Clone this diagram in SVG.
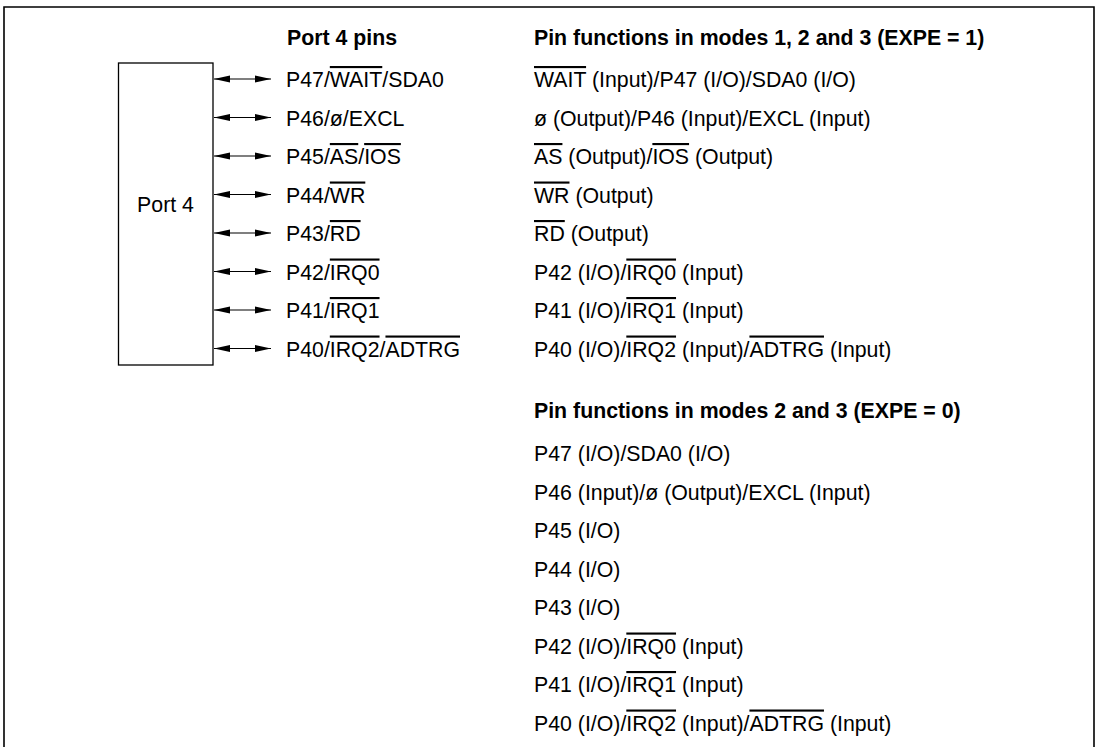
<svg xmlns="http://www.w3.org/2000/svg" width="1098" height="747" viewBox="0 0 1098 747">
<style>
text{font-family:"Liberation Sans",Arial,sans-serif;font-size:21.3px;fill:#000}
.h{font-weight:bold}
.o{text-decoration:overline}
.c{stroke:#000;stroke-width:1.2;fill:none}
</style>
<defs>
<marker id="ah" viewBox="0 0 16 8" refX="16" refY="4" markerWidth="16" markerHeight="8" markerUnits="userSpaceOnUse" orient="auto-start-reverse">
<path d="M0,0.5 L16,4 L0,7.5 Z" fill="#000"/>
</marker>
</defs>
<rect width="1098" height="747" fill="#fff"/>
<path d="M4,747 V7 H1094 V747" fill="none" stroke="#000" stroke-width="1.6"/>
<g id="port4">
<rect x="118.5" y="63" width="94.5" height="302" fill="#fff" stroke="#000" stroke-width="1.3"/>
<text x="165.5" y="212" text-anchor="middle">Port 4</text>
</g>
<g id="connectors">
<line class="c" x1="214" y1="79" x2="271" y2="79" marker-start="url(#ah)" marker-end="url(#ah)"/>
<line class="c" x1="214" y1="117.5" x2="271" y2="117.5" marker-start="url(#ah)" marker-end="url(#ah)"/>
<line class="c" x1="214" y1="156" x2="271" y2="156" marker-start="url(#ah)" marker-end="url(#ah)"/>
<line class="c" x1="214" y1="194.5" x2="271" y2="194.5" marker-start="url(#ah)" marker-end="url(#ah)"/>
<line class="c" x1="214" y1="233" x2="271" y2="233" marker-start="url(#ah)" marker-end="url(#ah)"/>
<line class="c" x1="214" y1="271.5" x2="271" y2="271.5" marker-start="url(#ah)" marker-end="url(#ah)"/>
<line class="c" x1="214" y1="310" x2="271" y2="310" marker-start="url(#ah)" marker-end="url(#ah)"/>
<line class="c" x1="214" y1="348.5" x2="271" y2="348.5" marker-start="url(#ah)" marker-end="url(#ah)"/>
</g>
<g id="pins">
<text class="h" x="287" y="45">Port 4 pins</text>
<text x="286" y="87">P47/<tspan class="o">WAIT</tspan>/SDA0</text>
<text x="286" y="125.5">P46/ø/EXCL</text>
<text x="286" y="164">P45/<tspan class="o">AS</tspan>/<tspan class="o">IOS</tspan></text>
<text x="286" y="202.5">P44/<tspan class="o">WR</tspan></text>
<text x="286" y="241">P43/<tspan class="o">RD</tspan></text>
<text x="286" y="279.5">P42/<tspan class="o">IRQ0</tspan></text>
<text x="286" y="318">P41/<tspan class="o">IRQ1</tspan></text>
<text x="286" y="356.5">P40/<tspan class="o">IRQ2</tspan>/<tspan class="o">ADTRG</tspan></text>
</g>
<g id="modes123">
<text class="h" x="534" y="45">Pin functions in modes 1, 2 and 3 (EXPE = 1)</text>
<text x="534" y="87"><tspan class="o">WAIT</tspan> (Input)/P47 (I/O)/SDA0 (I/O)</text>
<text x="534" y="125.5">ø (Output)/P46 (Input)/EXCL (Input)</text>
<text x="534" y="164"><tspan class="o">AS</tspan> (Output)/<tspan class="o">IOS</tspan> (Output)</text>
<text x="534" y="202.5"><tspan class="o">WR</tspan> (Output)</text>
<text x="534" y="241"><tspan class="o">RD</tspan> (Output)</text>
<text x="534" y="279.5">P42 (I/O)/<tspan class="o">IRQ0</tspan> (Input)</text>
<text x="534" y="318">P41 (I/O)/<tspan class="o">IRQ1</tspan> (Input)</text>
<text x="534" y="356.5">P40 (I/O)/<tspan class="o">IRQ2</tspan> (Input)/<tspan class="o">ADTRG</tspan> (Input)</text>
</g>
<g id="modes23">
<text class="h" x="534" y="418">Pin functions in modes 2 and 3 (EXPE = 0)</text>
<text x="534" y="461">P47 (I/O)/SDA0 (I/O)</text>
<text x="534" y="499.5">P46 (Input)/ø (Output)/EXCL (Input)</text>
<text x="534" y="538">P45 (I/O)</text>
<text x="534" y="576.5">P44 (I/O)</text>
<text x="534" y="615">P43 (I/O)</text>
<text x="534" y="653.5">P42 (I/O)/<tspan class="o">IRQ0</tspan> (Input)</text>
<text x="534" y="692">P41 (I/O)/<tspan class="o">IRQ1</tspan> (Input)</text>
<text x="534" y="730.5">P40 (I/O)/<tspan class="o">IRQ2</tspan> (Input)/<tspan class="o">ADTRG</tspan> (Input)</text>
</g>
</svg>
